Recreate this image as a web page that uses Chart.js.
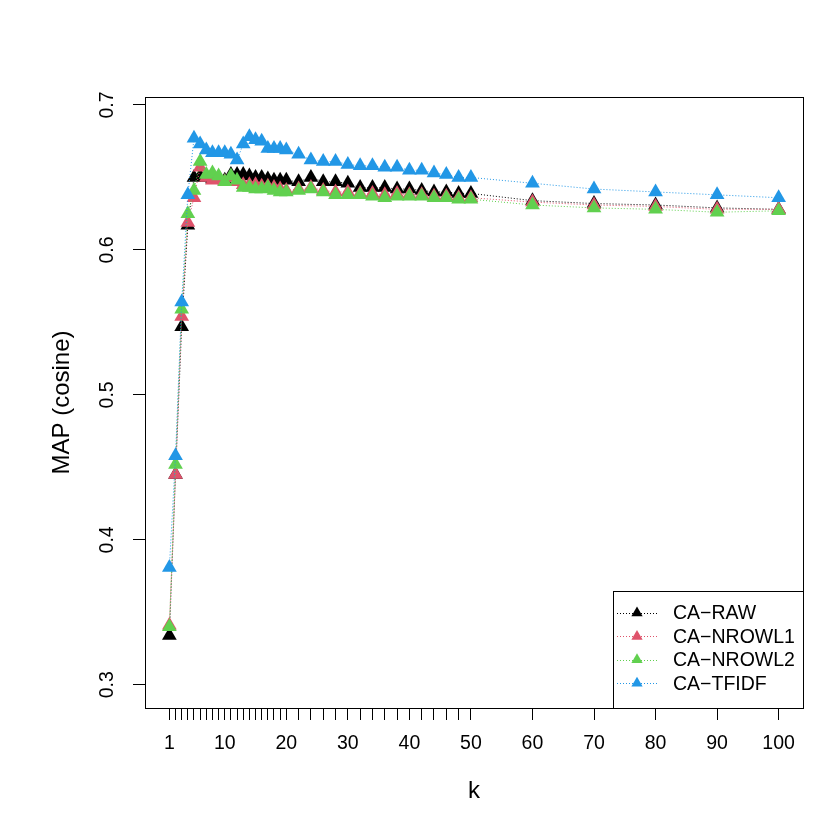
<!DOCTYPE html>
<html>
<head>
<meta charset="utf-8">
<script src="https://cdn.jsdelivr.net/npm/chart.js@4/dist/chart.umd.min.js"></script>
<style>
  html, body { margin: 0; padding: 0; background: #fff; }
</style>
</head>
<body>
<canvas id="chart" width="830" height="830"></canvas>
<script>
// k values (x axis)
const kValues = [1, 2, 3, 4, 5, 6, 7, 8, 9, 10, 11, 12, 13, 14, 15, 16, 17, 18, 19, 20,
  22, 24, 26, 28, 30, 32, 34, 36, 38, 40, 42, 44, 46, 48, 50, 60, 70, 80, 90, 100];

// MAP (cosine) per method
const caRaw = [0.334, 0.445, 0.547, 0.617, 0.650, 0.651, 0.650, 0.649, 0.650, 0.648,
  0.652, 0.652, 0.652, 0.651, 0.650, 0.650, 0.649, 0.648, 0.648, 0.648,
  0.647, 0.650, 0.647, 0.647, 0.646, 0.643, 0.643, 0.643, 0.642, 0.642,
  0.641, 0.640, 0.640, 0.639, 0.639, 0.634, 0.632, 0.631, 0.629, 0.628];
const caNrowl1 = [0.341, 0.445, 0.554, 0.619, 0.636, 0.657, 0.650, 0.648, 0.649, 0.647,
  0.650, 0.647, 0.645, 0.645, 0.645, 0.644, 0.644, 0.643, 0.642, 0.641,
  0.642, 0.643, 0.641, 0.640, 0.640, 0.639, 0.639, 0.638, 0.639, 0.638,
  0.638, 0.637, 0.637, 0.636, 0.636, 0.633, 0.631, 0.630, 0.628, 0.628];
const caNrowl2 = [0.340, 0.452, 0.559, 0.625, 0.641, 0.661, 0.652, 0.653, 0.651, 0.647,
  0.651, 0.648, 0.643, 0.643, 0.642, 0.642, 0.643, 0.641, 0.640, 0.640,
  0.641, 0.642, 0.640, 0.638, 0.638, 0.638, 0.637, 0.636, 0.637, 0.637,
  0.637, 0.636, 0.636, 0.635, 0.635, 0.631, 0.629, 0.628, 0.626, 0.627];
const caTfidf = [0.381, 0.458, 0.564, 0.638, 0.677, 0.673, 0.669, 0.667, 0.667, 0.667,
  0.666, 0.662, 0.673, 0.678, 0.676, 0.675, 0.670, 0.670, 0.670, 0.669,
  0.666, 0.662, 0.661, 0.661, 0.659, 0.658, 0.658, 0.657, 0.657, 0.655,
  0.655, 0.653, 0.652, 0.650, 0.650, 0.646, 0.642, 0.640, 0.638, 0.636];

const seriesNames = ['CA\u2212RAW', 'CA\u2212NROWL1', 'CA\u2212NROWL2', 'CA\u2212TFIDF'];
const seriesColors = ['#000000', '#DF536B', '#61D04F', '#2297E6'];
const yTicks = [0.3, 0.4, 0.5, 0.6, 0.7];
const xLabelled = [1, 10, 20, 30, 40, 50, 60, 70, 80, 90, 100];

const FONT = 'Liberation Sans, Arial, Helvetica, sans-serif';
const FS = 19.5;      // axis / legend text
const FS_LAB = 24;    // axis titles

function makeSet(name, vals, color) {
  return {
    label: name,
    data: kValues.map((k, i) => ({ x: k, y: vals[i] })),
    borderColor: color,
    backgroundColor: color,
    borderWidth: 1,
    borderDash: [1, 2],
    pointStyle: 'triangle',
    pointRadius: 8.5,
    pointBorderWidth: 0,
    pointBackgroundColor: color,
    tension: 0
  };
}

// box, y labels, titles, legend -- R style
const rStyle = {
  id: 'rStyle',
  afterDraw(chart) {
    const ctx = chart.ctx;
    const a = chart.chartArea;
    const ys = chart.scales.y;
    ctx.save();
    ctx.strokeStyle = '#000';
    ctx.lineWidth = 1;
    ctx.setLineDash([]);
    ctx.strokeRect(Math.round(a.left) + 0.5, Math.round(a.top) + 0.5,
      Math.round(a.right - a.left), Math.round(a.bottom - a.top));

    ctx.fillStyle = '#000';
    ctx.font = FS + 'px ' + FONT;
    ctx.textAlign = 'center';
    ctx.textBaseline = 'middle';
    yTicks.forEach(v => {
      ctx.save();
      ctx.translate(a.left - 37, ys.getPixelForValue(v));
      ctx.rotate(-Math.PI / 2);
      ctx.fillText(v.toFixed(1), 0, 0);
      ctx.restore();
    });

    // axis titles
    ctx.font = FS_LAB + 'px ' + FONT;
    ctx.fillText('k', (a.left + a.right) / 2, a.bottom + 83);
    ctx.save();
    ctx.translate(a.left - 83, (a.top + a.bottom) / 2);
    ctx.rotate(-Math.PI / 2);
    ctx.fillText('MAP (cosine)', 0, 0);
    ctx.restore();

    // legend
    ctx.font = FS + 'px ' + FONT;
    const lw = 190, lh = 117;
    const lx = Math.round(a.right) - lw, ly = Math.round(a.bottom) - lh;
    ctx.fillStyle = '#fff';
    ctx.fillRect(lx, ly, lw, lh);
    ctx.strokeRect(lx + 0.5, ly + 0.5, lw, lh);
    ctx.textAlign = 'left';
    seriesNames.forEach((name, i) => {
      const y = ly + 22 + i * 23.4;
      const c = seriesColors[i];
      ctx.strokeStyle = c;
      ctx.setLineDash([1, 2]);
      ctx.beginPath();
      ctx.moveTo(lx + 4, Math.round(y) + 0.5);
      ctx.lineTo(lx + 44, Math.round(y) + 0.5);
      ctx.stroke();
      ctx.setLineDash([]);
      const r = 6.5, tx = lx + 24;
      ctx.fillStyle = c;
      ctx.beginPath();
      ctx.moveTo(tx, y - r);
      ctx.lineTo(tx + r * 0.866, y + r / 2);
      ctx.lineTo(tx - r * 0.866, y + r / 2);
      ctx.closePath();
      ctx.fill();
      ctx.fillStyle = '#000';
      ctx.fillText(name, lx + 60, y + 1);
    });
    ctx.restore();
  }
};

new Chart(document.getElementById('chart'), {
  type: 'line',
  data: {
    datasets: [
      makeSet(seriesNames[0], caRaw, seriesColors[0]),
      makeSet(seriesNames[1], caNrowl1, seriesColors[1]),
      makeSet(seriesNames[2], caNrowl2, seriesColors[2]),
      makeSet(seriesNames[3], caTfidf, seriesColors[3])
    ].map((d, i) => Object.assign(d, { order: 4 - i }))
  },
  options: {
    responsive: false,
    animation: false,
    events: [],
    layout: { padding: { top: 97, right: 27, left: 0, bottom: 0 } },
    plugins: { legend: { display: false }, tooltip: { enabled: false } },
    scales: {
      x: {
        type: 'linear',
        min: -2.96,
        max: 103.96,
        afterBuildTicks: s => { s.ticks = kValues.map(v => ({ value: v })); },
        afterFit: s => { s.height = 122; },
        grid: { drawOnChartArea: false, drawTicks: true, tickLength: 12, color: '#000', lineWidth: 1 },
        border: { display: false },
        ticks: {
          autoSkip: false,
          maxRotation: 0,
          minRotation: 0,
          padding: 12,
          color: '#000',
          font: { family: FONT, size: FS },
          callback: v => xLabelled.includes(v) ? String(v) : ''
        }
      },
      y: {
        type: 'linear',
        min: 0.284,
        max: 0.7055,
        afterBuildTicks: s => { s.ticks = yTicks.map(v => ({ value: v })); },
        afterFit: s => { s.width = 145; },
        grid: { drawOnChartArea: false, drawTicks: true, tickLength: 12, color: '#000', lineWidth: 1 },
        border: { display: false },
        ticks: { display: false }
      }
    }
  },
  plugins: [rStyle]
});
</script>
</body>
</html>
